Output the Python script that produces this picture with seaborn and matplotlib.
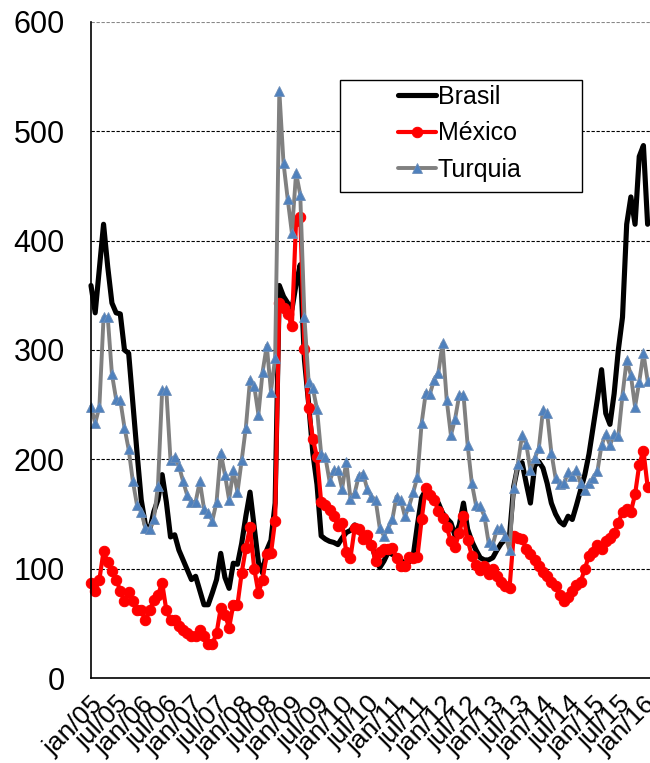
import matplotlib
matplotlib.use('Agg')
import matplotlib.pyplot as plt
from matplotlib.patches import Rectangle
import seaborn as sns
import pandas as pd
import numpy as np

sns.set_style("white")
plt.rcParams['font.family'] = ['Liberation Sans', 'DejaVu Sans']

# dados mensais jan/05 - fev/16
brasil = [359, 334, 375, 415, 376, 343, 334, 333, 300, 297, 251, 206, 163, 140, 135, 152, 163, 186, 161, 129,
          131, 117, 108, 99, 90, 93, 80, 67, 67, 78, 90, 114, 92, 82, 105, 104, 123, 148, 170, 138,
          106, 96, 117, 126, 160, 359, 349, 343, 337, 360, 378, 291, 251, 206, 177, 130, 127, 125, 124, 122,
          128, 133, 135, 140, 135, 128, 130, 122, 110, 101, 107, 115, 113, 112, 108, 104, 106, 112, 140, 165,
          172, 168, 162, 160, 151, 146, 142, 130, 140, 160, 136, 125, 117, 110, 108, 108, 110, 117, 123, 127,
          130, 175, 194, 197, 178, 160, 194, 198, 192, 178, 160, 150, 143, 140, 148, 145, 158, 172, 186, 205,
          230, 255, 282, 242, 232, 260, 300, 330, 415, 440, 415, 477, 487, 415]
mexico = [87, 80, 90, 116, 106, 98, 90, 80, 70, 79, 70, 62, 62, 53, 62, 71, 76, 87, 62, 53,
          53, 48, 44, 41, 38, 38, 44, 38, 31, 31, 41, 64, 58, 46, 67, 67, 96, 119, 138, 100,
          78, 90, 113, 114, 144, 343, 338, 333, 322, 418, 422, 301, 247, 219, 202, 161, 158, 154, 148, 139,
          142, 115, 110, 137, 136, 127, 131, 122, 107, 115, 118, 118, 119, 110, 102, 102, 111, 110, 111, 145,
          174, 167, 163, 153, 146, 138, 125, 120, 133, 148, 126, 112, 103, 99, 102, 95, 100, 93, 88, 84,
          82, 130, 128, 127, 118, 113, 108, 102, 97, 93, 88, 84, 76, 70, 74, 80, 85, 88, 100, 112,
          115, 122, 118, 125, 128, 133, 142, 152, 155, 152, 168, 195, 208, 175]
turquia = [248, 233, 248, 330, 330, 278, 255, 254, 229, 209, 180, 158, 152, 137, 136, 145, 176, 263, 263, 199,
           202, 194, 180, 167, 161, 161, 180, 155, 151, 144, 161, 206, 186, 163, 190, 170, 199, 229, 273, 267,
           241, 280, 304, 262, 293, 537, 471, 438, 407, 462, 442, 330, 271, 265, 246, 205, 202, 180, 190, 190,
           173, 198, 164, 169, 185, 187, 173, 166, 163, 137, 130, 137, 145, 166, 163, 148, 157, 170, 184, 233,
           261, 260, 273, 279, 306, 254, 222, 237, 259, 259, 213, 178, 158, 157, 148, 124, 122, 136, 137, 130,
           117, 174, 196, 222, 214, 190, 201, 210, 245, 242, 206, 183, 177, 178, 188, 185, 190, 178, 172, 178,
           183, 189, 213, 223, 213, 223, 221, 259, 291, 277, 248, 271, 297, 272]

rotulos = []
for ano in range(5, 17):
    rotulos.append(f'jan/{ano:02d}')
    if ano < 16:
        rotulos.append(f'jul/{ano:02d}')

df = pd.DataFrame({'mes': np.arange(len(brasil)), 'Brasil': brasil,
                   'México': mexico, 'Turquia': turquia})

fig = plt.figure(figsize=(6.5, 7.63), dpi=100)
ax = fig.add_axes([91 / 650, 1 - 678 / 763, 1 - 91 / 650, (678 - 22) / 763])

sns.lineplot(data=df, x='mes', y='Brasil', ax=ax, color='black', lw=3.7,
             label='Brasil', clip_on=False)
sns.lineplot(data=df, x='mes', y='México', ax=ax, color='#FF0000', lw=3.0,
             marker='o', markersize=7.5, markeredgecolor='#FF0000',
             label='México', clip_on=False)
sns.lineplot(data=df, x='mes', y='Turquia', ax=ax, color='#808080', lw=2.8,
             marker='^', markersize=7, markerfacecolor='#4F81BD',
             markeredgecolor='#6F8FB8', markeredgewidth=0.6,
             label='Turquia', clip_on=False)

ax.set_xlim(0, 133.57)
ax.set_ylim(0, 600)
ax.set_yticks(range(0, 601, 100))
ax.set_xticks(np.arange(0, len(rotulos) * 6, 6))
ax.set_xticklabels(rotulos, rotation=45, ha='right', va='top',
                   rotation_mode='anchor', fontsize=19, color='black')
ax.tick_params(axis='y', labelsize=22, labelcolor='black', length=7, width=1,
               direction='out', pad=12, color='black')
ax.tick_params(axis='x', length=6, width=1, direction='out', pad=4, color='black')
ax.set_xlabel('')
ax.set_ylabel('')

ax.yaxis.grid(True, linestyle=(0, (3, 1.5)), color='black', lw=0.8)
ax.get_ygridlines()[-1].set_color('#888888')
ax.set_axisbelow(True)
for s in ['top', 'right']:
    ax.spines[s].set_visible(False)
for s in ['left', 'bottom']:
    ax.spines[s].set_color('black')
    ax.spines[s].set_linewidth(1.2)

# legenda com moldura larga, como no Excel
moldura = Rectangle((340 / 650, 1 - 192 / 763), 242 / 650, 112 / 763,
                    transform=fig.transFigure, fc='white', ec='black', lw=1,
                    clip_on=False, zorder=5)
ax.add_patch(moldura)
leg = ax.legend(loc='upper left', bbox_to_anchor=(398 / 650, 1 - 85 / 763),
                bbox_transform=fig.transFigure, frameon=False, fontsize=18,
                handlelength=1.5, handletextpad=0.08, labelspacing=0.5,
                borderpad=0, borderaxespad=0)
leg.set_zorder(6)
for t in leg.get_texts():
    t.set_color('black')

fig.savefig('out.png', dpi=100, facecolor='white')
